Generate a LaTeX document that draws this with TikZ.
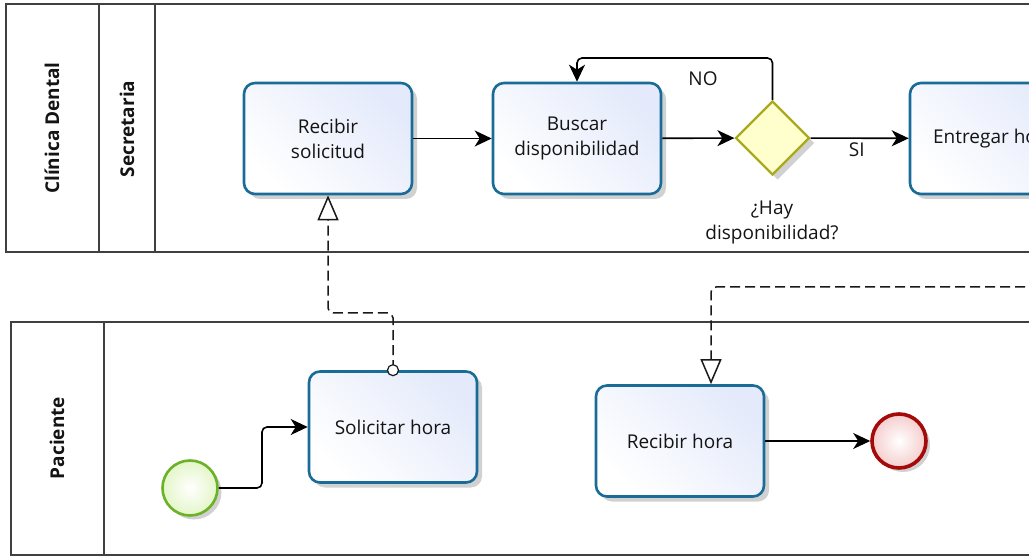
\documentclass[tikz,border=0pt]{standalone}
\usepackage{fontspec}
\setmainfont{Open Sans}
\usetikzlibrary{arrows.meta,shapes.geometric,shadows,calc}
\definecolor{taskblue}{RGB}{26,108,152}
\definecolor{taskfill}{RGB}{228,234,251}
\definecolor{gwborder}{RGB}{170,170,30}
\definecolor{gwfill}{RGB}{255,255,205}
\definecolor{startgreen}{RGB}{108,178,40}
\definecolor{startfill}{RGB}{228,246,200}
\definecolor{endred}{RGB}{165,10,10}
\definecolor{endfill}{RGB}{245,205,205}
\definecolor{poolline}{RGB}{64,64,64}
\definecolor{txt}{RGB}{20,20,20}
\tikzset{
  task/.style={rectangle, rounded corners=11pt, draw=taskblue, line width=2.6pt,
    left color=white, right color=taskfill, shading angle=135,
    minimum width=168pt, minimum height=111pt, align=center, text=txt,
    font=\fontsize{19}{25}\selectfont,
    drop shadow={shadow xshift=5pt, shadow yshift=-5pt, opacity=0.18, fill=black}},
  gateway/.style={diamond, draw=gwborder, line width=2.4pt, fill=gwfill,
    minimum width=74pt, minimum height=74pt, inner sep=0pt,
    drop shadow={shadow xshift=5pt, shadow yshift=-5pt, opacity=0.18, fill=black}},
  startev/.style={circle, draw=startgreen, line width=2.6pt, inner color=white, outer color=startfill,
    minimum size=55pt, inner sep=0pt,
    drop shadow={shadow xshift=4pt, shadow yshift=-4pt, opacity=0.18, fill=black}},
  endev/.style={circle, draw=endred, line width=3.6pt, inner color=white, outer color=endfill,
    minimum size=54pt, inner sep=0pt,
    drop shadow={shadow xshift=4pt, shadow yshift=-4pt, opacity=0.18, fill=black}},
  seq/.style={draw=black, line width=1.6pt, rounded corners=5pt,
    -{Stealth[length=17pt,width=16pt,inset=5pt]}},
  msg/.style={draw=black!90, line width=1.5pt, dash pattern=on 10pt off 5pt, rounded corners=5pt,
    -{Triangle[open,length=25pt,width=21pt,fill=white]}},
  poolbox/.style={draw=poolline, line width=1.5pt},
  poollabel/.style={rotate=90, font=\bfseries\fontsize{19}{22}\selectfont, text=txt},
  lbl/.style={font=\fontsize{19}{25}\selectfont, text=txt, align=center}
}
\begin{document}
\begin{tikzpicture}[x=1pt,y=-1pt]
\useasboundingbox (0,0) rectangle (1029,556);
\clip (0,0) rectangle (1029,556);
\fill[white] (0,0) rectangle (1029,556);

% pools
\draw[poolbox] (6,4) rectangle (1045,252);
\draw[poolbox] (99,4) -- (99,252);
\draw[poolbox] (155,4) -- (155,252);
\node[poollabel] (pool1) at (52,128) {Clínica Dental};
\node[poollabel] (lane1) at (127,129) {Secretaria};

\draw[poolbox] (11,322) rectangle (1045,555);
\draw[poolbox] (104,322) -- (104,555);
\node[poollabel] (pool2) at (57,438) {Paciente};

% tasks
\node[task] (rs) at (328,138.5) {Recibir\\solicitud};
\node[task] (bd) at (577,138.5) {Buscar\\disponibilidad};
\node[task] (eh) at (994,138.5) {Entregar hora};
\node[task] (sh) at (393,427) {Solicitar hora};
\node[task] (rh) at (680,441) {Recibir hora};
\node[gateway] (gw) at (772.5,138) {};
\node[lbl] (gwl) at (772,223) {¿Hay\\disponibilidad?};
\node[startev] (se) at (190,488) {};
\node[endev] (ee) at (899,441) {};

% sequence flows
\draw[seq] (rs) -- (bd);
\draw[seq] (bd) -- (gw);
\draw[seq] (gw) -- (eh) node[lbl, pos=0.47, below=0pt] (si) {SI};
\coordinate (nturn) at (772.5,58);
\draw[seq] (gw.north) -- (nturn) -| (bd.north);
\node[lbl] (no) at (703,79) {NO};
\draw[seq] (se.east) -- (262,488) |- (sh.west);
\draw[seq] (rh) -- (ee);

% message flows
\coordinate (m1a) at (393,313);
\draw[msg] (sh.north) -- (m1a) -| (rs.south);
\draw[draw=black!90, line width=1.2pt, fill=white] (sh.north) circle (5.5pt);
\coordinate (m2a) at (1040,287);
\draw[msg] (m2a) -| ([xshift=31pt]rh.north);
\end{tikzpicture}
\end{document}
